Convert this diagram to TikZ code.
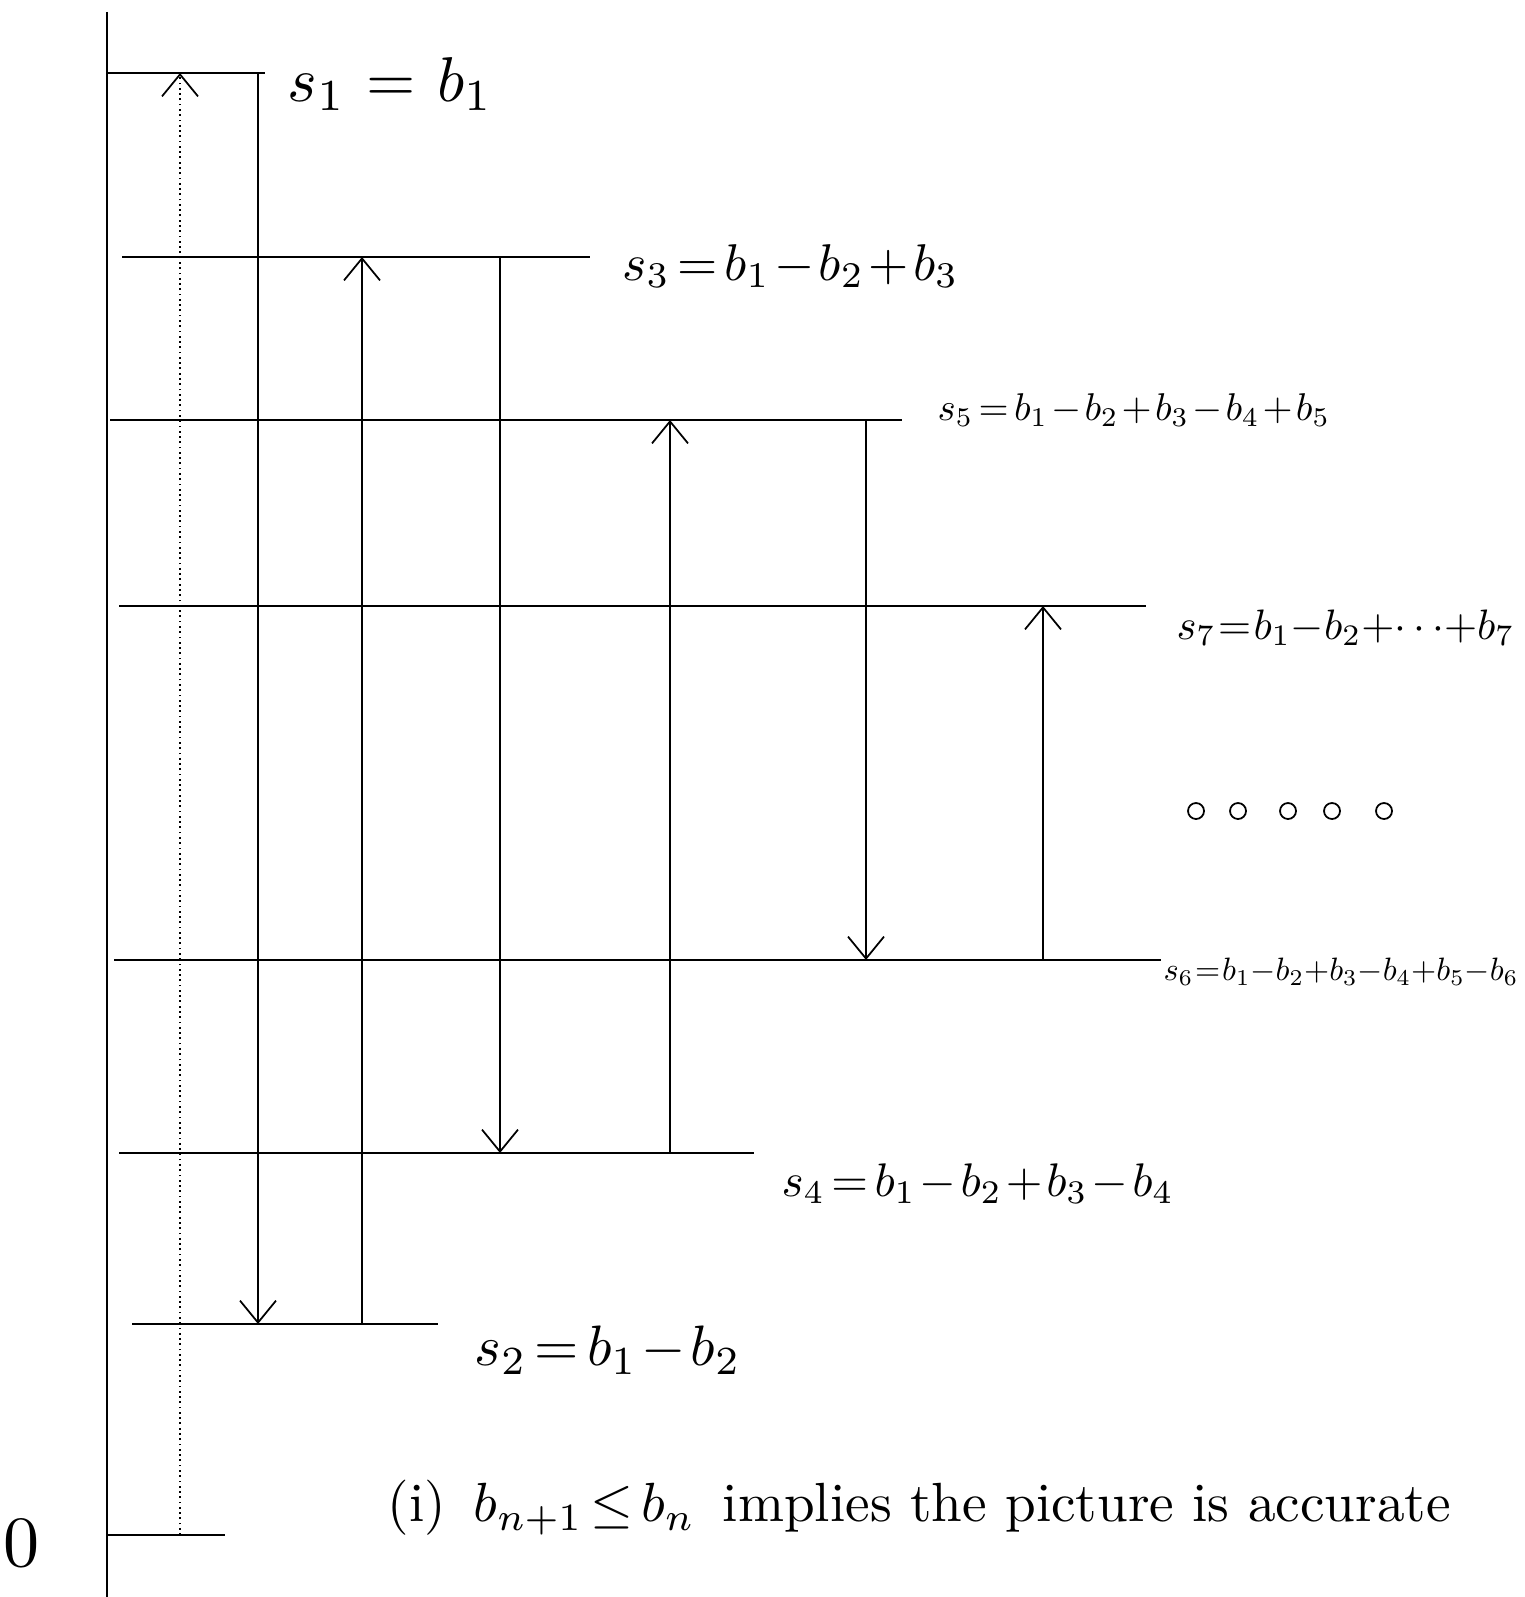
\documentclass[tikz,border=0pt]{standalone}
\usepackage{amsmath}
\usepackage{graphicx}
\usetikzlibrary{arrows.meta}
\tikzset{
  level/.style={line width=0.6pt},
  jump/.style={line width=0.5pt, -{Straight Barb[length=2.2mm, width=3.6mm]}},
  lbl/.style={anchor=west, inner sep=0pt, execute at begin node={\medmuskip=1.5mu\thickmuskip=2.5mu}},
  tight/.style={execute at begin node={\medmuskip=0mu\thickmuskip=1mu}}
}
\newcommand{\sized}[2]{\scalebox{#1}{#2}}
\begin{document}
\begin{tikzpicture}[x=0.01cm, y=-0.01cm]
	\useasboundingbox (0, 0) rectangle (1525, 1597);

	% axis and zero
	\draw[level] (107, 12) -- (107, 1597);
	\coordinate (z0) at (107, 1535);
	\coordinate (z1) at (225, 1535);
	\draw[level] (z0) -- (z1);
	\node (zero) at (22, 1543) {\sized{2.05}{$0$}};

	% partial sums, odd above, even below
	\draw[level] (107, 73) -- (265, 73);
	\draw[level] (122, 257) -- (590, 257);
	\draw[level] (110, 420) -- (902, 420);
	\draw[level] (119, 606) -- (1146, 606);
	\draw[level] (114, 960) -- (1161, 960);
	\draw[level] (119, 1153) -- (754, 1153);
	\draw[level] (132, 1324) -- (438, 1324);

	\node[lbl, execute at begin node={\thickmuskip=6mu}] (ls1) at (287, 84) {\sized{1.8}{$s_1 = b_1$}};
	\node[lbl] (ls3) at (622, 266) {\sized{1.47}{$s_3 = b_1 - b_2 + b_3$}};
	\node[lbl] (ls5) at (937, 410) {\sized{1.1}{$s_5 = b_1 - b_2 + b_3 - b_4 + b_5$}};
	\node[lbl, tight] (ls7) at (1176, 628) {\sized{1.21}{$s_7 = b_1 - b_2 + \cdots + b_7$}};
	\node[lbl, tight] (ls6) at (1163, 972) {\sized{0.92}{$s_6 = b_1 - b_2 + b_3 - b_4 + b_5 - b_6$}};
	\node[lbl] (ls4) at (781, 1184) {\sized{1.34}{$s_4 = b_1 - b_2 + b_3 - b_4$}};
	\node[lbl] (ls2) at (474, 1350) {\sized{1.62}{$s_2 = b_1 - b_2$}};

	% dots
	\foreach \x in {1196, 1238, 1288, 1332, 1384}
		\draw[line width=0.5pt] (\x, 811) circle (8);

	% steps between the sums
	\coordinate (a0) at (180, 1535);  \coordinate (a1) at (180, 73);
	\coordinate (b1) at (258, 73);    \coordinate (b2) at (258, 1324);
	\coordinate (c2) at (362, 1324);  \coordinate (c3) at (362, 257);
	\coordinate (d3) at (500, 257);   \coordinate (d4) at (500, 1153);
	\coordinate (e4) at (670, 1153);  \coordinate (e5) at (670, 420);
	\coordinate (f5) at (866, 420);   \coordinate (f6) at (866, 960);
	\coordinate (g6) at (1043, 960);  \coordinate (g7) at (1043, 606);

	\draw[jump, densely dotted] (a0) -- (a1);
	\draw[jump] (b1) -- (b2);
	\draw[jump] (c2) -- (c3);
	\draw[jump] (d3) -- (d4);
	\draw[jump] (e4) -- (e5);
	\draw[jump] (f5) -- (f6);
	\draw[jump] (g6) -- (g7);

	\node[lbl] (note) at (387, 1508) {\sized{1.57}{(i)\enspace $b_{n+1} \le b_n$\enspace implies the picture is accurate}};
\end{tikzpicture}
\end{document}
